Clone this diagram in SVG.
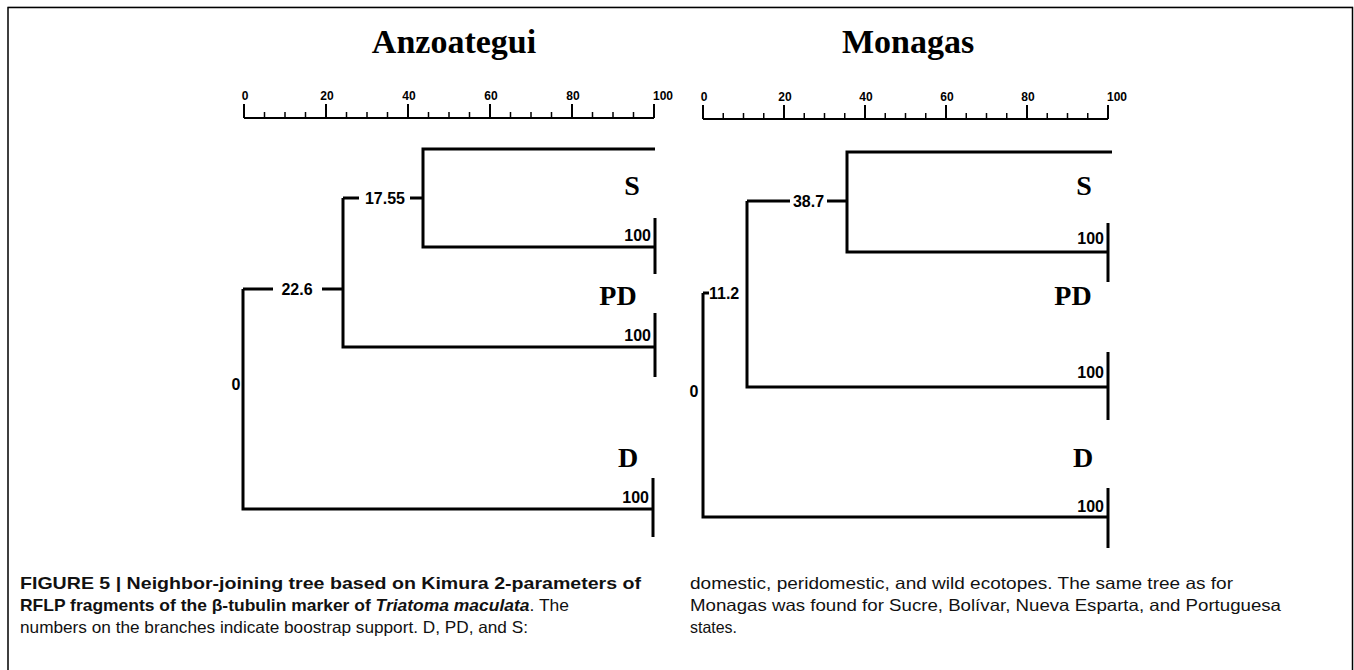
<svg xmlns="http://www.w3.org/2000/svg" width="1354" height="670" viewBox="0 0 1354 670">
<style>
.ln{fill:none;stroke:#000;stroke-width:3;stroke-linecap:butt}
.sc{fill:none;stroke:#000;stroke-width:2}
.mn{fill:none;stroke:#000;stroke-width:1.5}
.ttl{font-family:"Liberation Serif",serif;font-weight:bold;font-size:34px;text-anchor:middle;fill:#000}
.grp{font-family:"Liberation Serif",serif;font-weight:bold;font-size:28px;text-anchor:middle;fill:#000}
.num{font-family:"Liberation Sans",sans-serif;font-weight:bold;font-size:16px;fill:#000}
.tk{font-family:"Liberation Sans",sans-serif;font-weight:bold;font-size:12px;fill:#000}
.cap{font-family:"Liberation Sans",sans-serif;font-size:16.5px;fill:#111}
.b{font-weight:bold}
</style>
<rect width="1354" height="670" fill="#fff"/>
<path d="M8,670 V7.5 H1352.5 V670" fill="none" stroke="#000" stroke-width="1.5"/>
<line x1="8" y1="6.5" x2="1353" y2="6.5" stroke="#aaa" stroke-width="1"/>

<g id="title-anzoategui"><text class="ttl" x="454" y="53">Anzoategui</text></g>
<g id="title-monagas"><text class="ttl" x="908" y="53">Monagas</text></g>

<g id="scale-left">
<path class="sc" d="M244,118 H654 M244,104 V118 M326,104 V118 M408,104 V118 M490,104 V118 M572,104 V118 M654,104 V118"/>
<path class="mn" d="M264.5,112 V118 M285,112 V118 M305.5,112 V118 M346.5,112 V118 M367,112 V118 M387.5,112 V118 M428.5,112 V118 M449,112 V118 M469.5,112 V118 M510.5,112 V118 M531,112 V118 M551.5,112 V118 M592.5,112 V118 M613,112 V118 M633.5,112 V118"/>
<text class="tk" x="245" y="100" text-anchor="middle">0</text>
<text class="tk" x="327" y="100" text-anchor="middle">20</text>
<text class="tk" x="409" y="100" text-anchor="middle">40</text>
<text class="tk" x="491" y="100" text-anchor="middle">60</text>
<text class="tk" x="573" y="100" text-anchor="middle">80</text>
<text class="tk" x="653" y="100">100</text>
</g>

<g id="scale-right">
<path class="sc" d="M703,119 H1108 M703,105 V119 M784,105 V119 M865,105 V119 M946,105 V119 M1027,105 V119 M1108,105 V119"/>
<path class="mn" d="M723.25,113 V119 M743.5,113 V119 M763.75,113 V119 M804.25,113 V119 M824.5,113 V119 M844.75,113 V119 M885.25,113 V119 M905.5,113 V119 M925.75,113 V119 M966.25,113 V119 M986.5,113 V119 M1006.75,113 V119 M1047.25,113 V119 M1067.5,113 V119 M1087.75,113 V119"/>
<text class="tk" x="704" y="101" text-anchor="middle">0</text>
<text class="tk" x="785" y="101" text-anchor="middle">20</text>
<text class="tk" x="866" y="101" text-anchor="middle">40</text>
<text class="tk" x="947" y="101" text-anchor="middle">60</text>
<text class="tk" x="1028" y="101" text-anchor="middle">80</text>
<text class="tk" x="1107" y="101">100</text>
</g>

<g id="connectors">
<path class="ln" d="M655,149 H423 V247 H655"/>
<path class="ln" d="M655,218 V274"/>
<path class="ln" d="M343,198 H359 M410,198 H423"/>
<path class="ln" d="M343,198 V347 H655"/>
<path class="ln" d="M655,313 V377"/>
<path class="ln" d="M243,289 H273 M322,289 H343"/>
<path class="ln" d="M243,289 V509 H653"/>
<path class="ln" d="M653,478 V537"/>

<path class="ln" d="M1112,152 H847 V252 H1108"/>
<path class="ln" d="M1108,223 V282"/>
<path class="ln" d="M747,201 H790 M827,201 H847"/>
<path class="ln" d="M747,201 V387 H1108"/>
<path class="ln" d="M1108,352 V420"/>
<path class="ln" d="M703,293 H709"/>
<path class="ln" d="M703,293 V517 H1108"/>
<path class="ln" d="M1108,488 V548"/>
</g>

<g id="left-nodes">
<g id="L-n17"><text class="num" x="385" y="204" text-anchor="middle">17.55</text></g>
<g id="L-n22"><text class="num" x="297" y="295" text-anchor="middle">22.6</text></g>
<g id="L-root"><text class="num" x="236" y="390" text-anchor="middle" font-size="13">0</text></g>
<g id="L-S"><text class="grp" x="632" y="195">S</text><text class="num" x="651" y="241" text-anchor="end">100</text></g>
<g id="L-PD"><text class="grp" x="618" y="305">PD</text><text class="num" x="651" y="341" text-anchor="end">100</text></g>
<g id="L-D"><text class="grp" x="628" y="467">D</text><text class="num" x="649" y="503" text-anchor="end">100</text></g>
</g>

<g id="right-nodes">
<g id="R-n38"><text class="num" x="808.5" y="207" text-anchor="middle">38.7</text></g>
<g id="R-n11"><text class="num" x="709" y="299">11.2</text></g>
<g id="R-root"><text class="num" x="694" y="397" text-anchor="middle" font-size="13">0</text></g>
<g id="R-S"><text class="grp" x="1084" y="195">S</text><text class="num" x="1104" y="244" text-anchor="end">100</text></g>
<g id="R-PD"><text class="grp" x="1073" y="305">PD</text><text class="num" x="1104" y="378" text-anchor="end">100</text></g>
<g id="R-D"><text class="grp" x="1083" y="467">D</text><text class="num" x="1104" y="512" text-anchor="end">100</text></g>
</g>

<g id="caption">
<text class="cap b" x="20" y="589" textLength="621" lengthAdjust="spacingAndGlyphs">FIGURE 5 | Neighbor-joining tree based on Kimura 2-parameters of</text>
<text class="cap" x="20" y="611" textLength="549" lengthAdjust="spacingAndGlyphs"><tspan class="b">RFLP fragments of the β-tubulin marker of </tspan><tspan class="b" font-style="italic">Triatoma maculata</tspan>. The</text>
<text class="cap" x="20" y="633" textLength="508" lengthAdjust="spacingAndGlyphs">numbers on the branches indicate boostrap support. D, PD, and S:</text>
<text class="cap" x="690" y="589" textLength="543" lengthAdjust="spacingAndGlyphs">domestic, peridomestic, and wild ecotopes. The same tree as for</text>
<text class="cap" x="690" y="611" textLength="591" lengthAdjust="spacingAndGlyphs">Monagas was found for Sucre, Bolívar, Nueva Esparta, and Portuguesa</text>
<text class="cap" x="690" y="633" textLength="47" lengthAdjust="spacingAndGlyphs">states.</text>
</g>
</svg>
